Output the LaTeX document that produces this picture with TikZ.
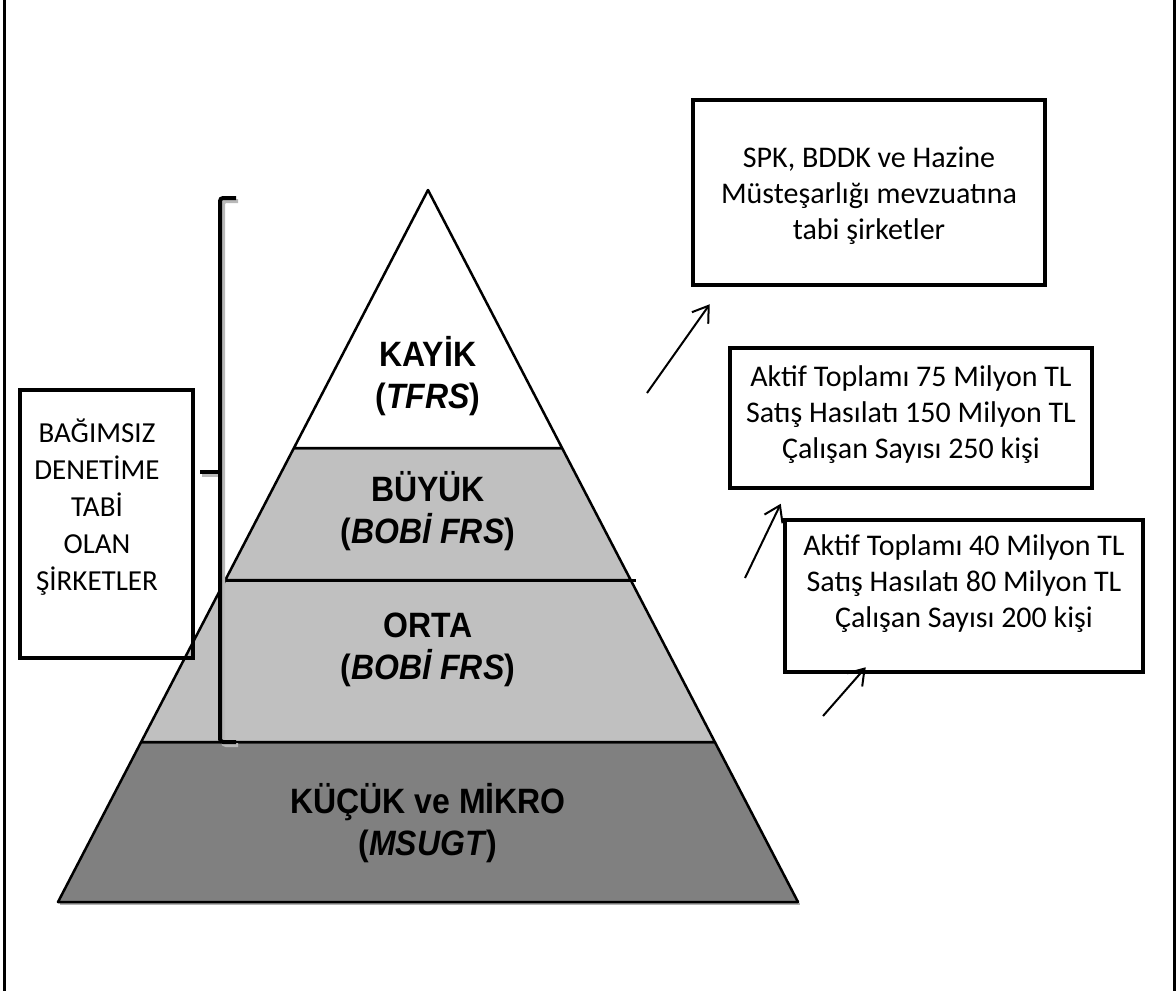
\documentclass[tikz,border=0pt]{standalone}
\usepackage{fontspec}
\setmainfont{Carlito}
\newfontfamily\pyrfont{Liberation Sans}
\usetikzlibrary{calc,arrows.meta}
\definecolor{acikgri}{HTML}{C0C0C0}
\definecolor{koyugri}{HTML}{808080}
\newcommand{\uzat}[1]{\scalebox{1}[1.1]{#1}}

\begin{document}
\begin{tikzpicture}[x=1pt,y=1pt,yscale=-1,
    kutu/.style={draw,line width=4.5pt,inner sep=0pt},
    kutuyazi/.style={font=\fontsize{30}{36}\selectfont,align=center,inner sep=0pt},
    katyazi/.style={font=\pyrfont\bfseries\fontsize{32}{42}\selectfont,align=center,inner sep=0pt},
    ok/.style={line width=2pt,-{Straight Barb[length=15pt,width=20pt]}},
    parantez/.style={line width=4pt,rounded corners=3pt}]

    \useasboundingbox (0,0) rectangle (1176,991);

    %Frame
    \draw[line width=3pt] (4,0) -- (4,991);
    \draw[line width=2.5pt] (1174.5,0) -- (1174.5,991);

    %Pyramid corners
    \coordinate (tepe) at (428,190);
    \coordinate (solalt) at (58,902);
    \coordinate (sagalt) at (798,902);
    \coordinate (sol1) at ($(tepe)!0.3624!(solalt)$);
    \coordinate (sag1) at ($(tepe)!0.3624!(sagalt)$);
    \coordinate (sol2) at ($(tepe)!0.5478!(solalt)$);
    \coordinate (sag2) at ($(tepe)!0.5478!(sagalt)$);
    \coordinate (sol3) at ($(tepe)!0.7753!(solalt)$);
    \coordinate (sag3) at ($(tepe)!0.7753!(sagalt)$);

    %Pyramid levels
    \draw[gray!60, line width=2.5pt] ($(solalt)+(2,2)$) -- ($(sagalt)+(2,2)$);
    \filldraw[fill=koyugri, line width=2.5pt, line join=round] (sol3) -- (solalt) -- (sagalt) -- (sag3) -- cycle;
    \filldraw[fill=acikgri, line width=2.5pt, line join=round] (sol2) -- (sol3) -- (sag3) -- (sag2) -- cycle;
    \filldraw[fill=acikgri, line width=2.5pt, line join=round] (sol1) -- (sol2) -- (sag2) -- (sag1) -- cycle;
    \filldraw[fill=white, line width=2.5pt, line join=round] (tepe) -- (sol1) -- (sag1) -- cycle;
    \draw[line width=3pt] ($(sol2)+(-4,0)$) -- ($(sag2)+(5,0)$);

    %Level labels
    \node[katyazi] (kayik) at (428,376) {\uzat{KAYİK}\\\uzat{(\textit{TFRS})}};
    \node[katyazi] (buyuk) at (428,511) {\uzat{BÜYÜK}\\\uzat{(\textit{BOBİ FRS})}};
    \node[katyazi] (orta) at (428,650) {\uzat{ORTA}\\\uzat{(\textit{BOBİ FRS})}};
    \node[katyazi] (kucuk) at (428,823) {\uzat{KÜÇÜK ve MİKRO}\\\uzat{(\textit{MSUGT})}};

    %Bracket
    \draw[parantez, gray!55] (238,201) -- (223,201) -- (223,745) -- (238,745);
    \draw[parantez, gray!55] (202,475) -- (223,475);
    \draw[parantez] (236,198) -- (220,198) -- (220,742) -- (236,742);
    \draw[parantez] (200,472) -- (220,472);

    %Left box
    \node[kutu, minimum width=173, minimum height=268] (bagimsiz) at (106.5,524) {};
    \node[kutuyazi, font=\fontsize{29}{37}\selectfont] (bagimsizyazi) at (97,507) {BAĞIMSIZ\\DENETİME\\TABİ\\OLAN\\ŞİRKETLER};

    %Right boxes
    \node[kutu, minimum width=352, minimum height=185] (kayikbox) at (869,192.5) {};
    \node[kutuyazi] (kayikyazi) at (869,196) {SPK, BDDK ve Hazine\\Müsteşarlığı mevzuatına\\tabi şirketler};
    \node[kutu, minimum width=362, minimum height=140] (buyukbox) at (911,418) {};
    \node[kutuyazi] (buyukyazi) at (911,415) {Aktif Toplamı 75 Milyon TL\\Satış Hasılatı 150 Milyon TL\\Çalışan Sayısı 250 kişi};
    \node[kutu, minimum width=358, minimum height=152] (ortabox) at (964,596) {};
    \node[kutuyazi] (ortayazi) at (964,584) {Aktif Toplamı 40 Milyon TL\\Satış Hasılatı 80 Milyon TL\\Çalışan Sayısı 200 kişi};

    %Arrows
    \coordinate (ok1) at (647,393);
    \coordinate (ok2) at (745,578);
    \coordinate (ok3) at (823,716);
    \draw[ok] (ok1) -- ($(kayikbox.south west)+(19,17)$);
    \draw[ok] (ok2) -- ($(ortabox.north west)+(-2,-14)$);
    \draw[ok] (ok3) -- ($(ortabox.south west)+(83,-7)$);

\end{tikzpicture}
\end{document}
